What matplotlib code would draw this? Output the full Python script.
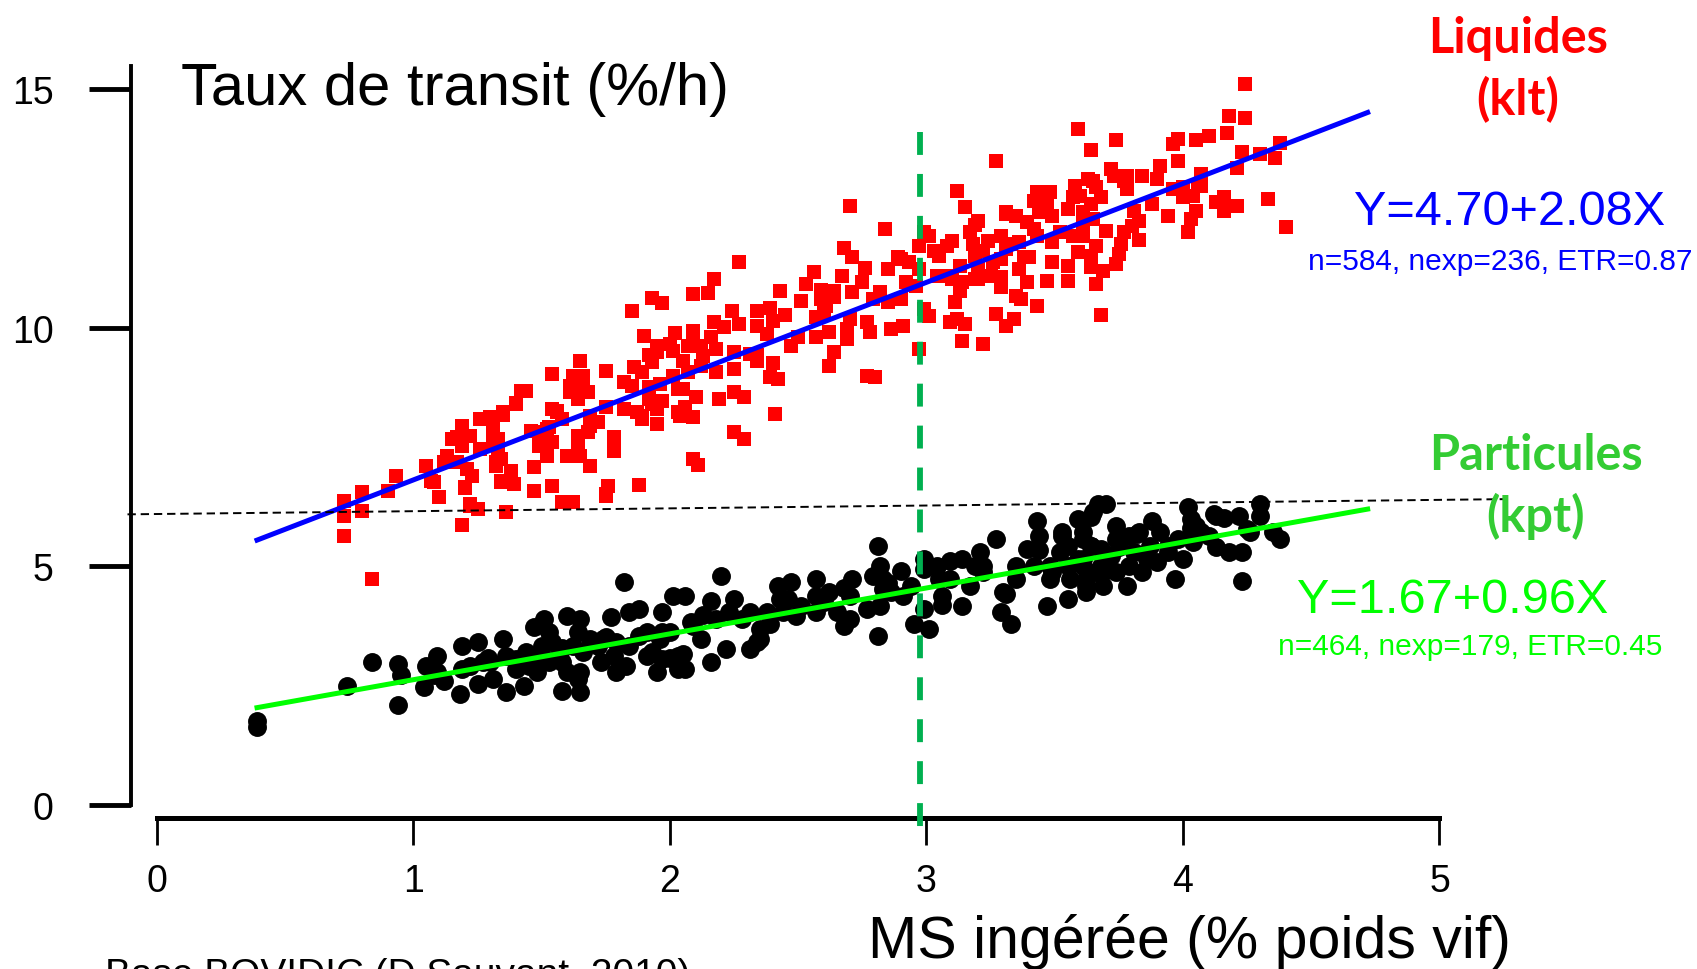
import matplotlib
matplotlib.use("Agg")
import matplotlib.pyplot as plt
import numpy as np

W, H = 1697, 970

# Liquides (klt): x = MS ingérée (% PV), y = taux de transit (%/h)
liquides = np.array([
    (0.73, 5.64), (0.73, 6.37), (0.73, 6.05), (0.80, 6.56), (0.80, 6.16), (0.84, 4.73),
    (0.93, 6.90), (0.90, 6.58), (1.05, 7.10), (1.07, 6.79), (1.10, 6.45), (1.13, 7.31),
    (1.17, 7.71), (1.19, 7.94), (1.20, 6.66), (1.22, 6.26), (1.25, 6.20), (1.19, 5.87),
    (1.23, 6.90), (1.26, 8.09), (1.30, 8.13), (1.31, 7.60), (1.32, 7.19), (1.34, 6.79),
    (1.38, 7.00), (1.39, 6.73), (1.36, 6.14), (1.35, 8.23), (1.40, 8.40), (1.43, 8.67),
    (1.47, 7.08), (1.47, 6.58), (1.50, 7.60), (1.53, 7.92), (1.54, 6.68), (1.56, 8.23),
    (1.58, 6.35), (1.62, 6.35), (1.60, 7.31), (1.65, 7.31), (1.69, 7.10), (1.64, 7.52),
    (1.68, 7.81), (1.61, 8.65), (1.66, 8.72), (1.72, 8.02), (1.75, 6.52), (1.78, 7.71),
    (1.78, 7.42), (1.88, 6.70), (1.75, 8.34), (1.82, 8.30), (1.89, 8.15), (1.93, 8.40),
    (2.03, 8.72), (2.03, 8.23),
    (2.27, 11.38), (2.17, 11.02), (2.09, 10.70), (2.15, 10.73), (2.56, 11.17), (2.53, 10.92),
    (1.93, 10.62), (1.97, 10.52), (1.85, 10.35), (2.24, 10.35), (2.39, 10.41), (2.45, 10.27),
    (2.40, 10.14), (2.57, 10.22), (1.90, 9.83), (2.02, 9.89), (2.09, 9.93), (1.95, 9.62),
    (2.16, 9.81), (2.21, 10.01), (2.27, 10.08), (2.34, 10.04), (2.38, 9.87), (2.50, 9.81),
    (2.57, 9.81), (2.47, 9.62), (2.07, 9.62), (2.12, 9.62), (2.18, 9.56), (2.25, 9.49),
    (2.05, 9.30), (2.13, 9.41), (2.31, 9.45), (2.34, 9.30), (2.40, 9.26), (2.25, 9.14),
    (1.93, 9.28), (1.95, 9.49), (2.01, 9.51), (2.01, 8.99), (2.07, 9.07), (2.12, 9.20),
    (2.18, 9.07), (2.39, 8.97), (2.42, 8.93), (1.86, 9.18), (1.89, 9.07), (1.82, 8.86),
    (1.85, 8.78), (1.96, 8.82), (2.05, 8.72), (2.10, 8.55), (2.19, 8.51), (2.25, 8.65),
    (2.29, 8.55), (1.97, 8.46), (2.06, 8.34), (2.09, 8.13), (2.04, 8.15), (1.95, 8.30),
    (1.87, 8.23), (1.89, 8.09), (1.95, 7.98), (2.41, 8.19), (2.25, 7.81), (2.29, 7.67),
    (2.09, 7.25), (2.11, 7.12), (1.76, 6.68), (1.75, 6.47), (1.92, 8.51), (1.69, 8.15),
    (1.69, 7.94), (1.64, 7.73), (1.64, 7.31), (1.65, 9.30), (1.66, 8.99), (1.61, 8.78),
    (1.68, 8.65), (1.64, 8.51), (1.54, 9.03), (1.56, 8.25), (1.58, 8.09), (1.52, 7.88),
    (1.49, 7.81), (1.54, 7.60), (1.49, 7.52), (1.52, 7.31), (1.42, 8.67), (1.40, 8.42),
    (1.35, 8.17), (1.30, 8.09), (1.31, 7.88), (1.19, 7.88), (1.17, 7.67), (1.22, 7.73),
    (1.33, 7.67), (1.19, 7.52), (1.26, 7.46), (1.33, 7.39), (1.12, 7.19), (1.17, 7.19),
    (1.34, 7.25), (1.32, 7.10), (1.21, 7.04), (1.34, 6.77), (1.20, 6.64), (1.22, 6.31),
    (1.08, 6.77), (1.44, 8.67), (1.15, 7.67),
    (4.24, 15.10), (4.18, 14.43), (4.24, 14.39), (4.17, 14.08), (3.59, 14.16), (3.74, 13.93),
    (3.64, 13.72), (3.27, 13.49), (3.98, 13.95), (4.05, 13.93), (4.10, 14.02), (3.96, 13.85),
    (3.98, 13.49), (3.91, 13.39), (4.23, 13.68), (4.21, 13.35), (4.30, 13.64), (4.36, 13.56),
    (4.38, 13.87), (3.72, 13.32), (3.73, 13.18), (3.77, 13.07), (3.78, 12.91), (3.84, 13.18),
    (3.90, 13.12), (4.07, 13.22), (4.06, 12.97), (4.00, 12.95), (3.96, 12.91), (4.00, 12.74),
    (4.04, 12.76), (4.33, 12.70), (4.16, 12.74), (4.13, 12.63), (4.21, 12.55), (4.16, 12.44),
    (4.40, 12.11), (4.05, 12.44), (4.03, 12.28), (4.02, 12.00), (3.94, 12.34), (3.88, 12.59),
    (3.81, 12.44), (3.83, 12.24), (3.80, 12.13), (3.77, 12.00), (3.83, 11.84), (3.76, 11.75),
    (3.75, 11.54), (3.74, 11.33), (3.70, 12.03), (3.66, 11.71), (3.64, 11.50), (3.64, 11.27),
    (3.69, 11.19), (3.66, 10.92), (3.68, 10.27), (3.59, 11.59), (3.55, 11.29), (3.55, 10.98),
    (3.49, 11.38), (3.47, 10.98), (3.43, 10.45), (3.37, 10.60), (3.39, 10.96), (3.36, 11.23),
    (3.31, 11.65), (3.36, 11.80), (3.43, 11.92), (3.49, 11.80), (3.52, 12.00), (3.57, 11.92),
    (3.61, 12.13), (3.65, 12.28), (3.61, 12.42), (3.55, 12.49), (3.49, 12.34), (3.44, 12.42),
    (3.39, 12.21), (3.42, 12.07), (3.43, 12.84), (3.48, 12.84), (3.47, 12.55), (3.42, 12.65),
    (3.58, 12.97), (3.63, 13.12), (3.66, 12.95), (3.60, 12.76), (3.68, 12.74), (3.64, 12.59),
    (3.31, 12.42), (3.35, 12.34), (3.29, 11.92), (3.33, 11.75), (3.38, 11.48), (3.29, 11.44),
    (3.26, 11.38), (3.29, 11.06), (3.29, 10.85), (3.20, 12.24), (3.17, 12.00), (3.24, 11.82),
    (3.22, 11.61), (3.19, 11.50), (3.18, 11.75), (3.12, 12.86), (3.15, 12.53), (3.13, 11.29),
    (3.10, 11.02), (3.14, 10.96), (3.11, 10.54), (3.12, 10.18), (3.15, 10.08), (3.09, 10.12),
    (3.14, 9.72), (3.22, 9.66), (3.27, 10.29), (3.31, 10.04), (3.34, 10.18), (3.25, 11.08),
    (3.08, 11.71), (3.05, 11.50), (3.03, 11.61), (3.08, 11.08), (3.13, 10.77), (3.04, 11.08),
    (3.01, 11.92), (2.99, 12.00), (2.97, 11.71), (3.01, 10.25), (2.99, 10.39), (2.97, 9.55),
    (2.93, 11.38), (2.90, 11.44), (2.85, 11.23), (2.84, 12.07), (2.92, 10.96), (2.90, 10.60),
    (2.91, 10.04), (2.86, 9.97), (2.82, 10.75), (2.79, 10.60), (2.85, 10.54), (2.77, 10.12),
    (2.78, 9.91), (2.80, 8.97), (2.77, 8.99), (2.75, 10.96), (2.71, 10.75), (2.70, 10.18),
    (2.69, 9.97), (2.69, 9.76), (2.64, 9.49), (2.62, 9.91), (2.61, 10.45), (2.64, 10.77),
    (2.67, 11.08), (2.70, 12.55), (2.68, 11.67), (2.71, 11.48), (2.96, 10.87), (2.97, 11.23),
    (3.20, 11.02), (3.20, 11.23), (3.35, 10.66), (4.07, 13.18), (4.07, 12.97), (2.60, 10.30),
    (2.59, 10.60), (2.62, 9.20), (2.64, 10.64), (2.43, 10.77),
    (1.46, 7.84), (1.54, 8.30), (1.62, 8.98), (1.75, 9.09), (1.92, 9.43), (2.00, 9.66),
    (2.09, 9.89), (2.17, 10.11), (2.34, 10.34), (2.51, 10.57), (2.59, 10.80), (2.76, 11.25),
    (2.89, 11.48), (3.10, 11.82), (3.19, 12.16), (3.31, 12.39), (3.44, 12.61), (3.57, 12.73),
    (3.65, 13.07), (3.78, 13.18), (1.92, 8.75), (2.34, 9.43), (3.19, 11.02), (3.61, 11.93),
    (3.40, 11.48),
])

# Particules (kpt)
particules = np.array([
    (0.39, 1.76), (0.39, 1.63), (0.74, 2.49), (0.84, 3.00), (0.94, 2.95), (0.95, 2.72),
    (0.94, 2.10), (1.05, 2.91), (1.04, 2.47), (1.09, 3.12), (1.12, 2.60), (1.18, 2.33),
    (1.19, 3.33), (1.25, 3.42), (1.25, 2.54), (1.22, 2.91), (1.27, 3.00), (1.35, 3.48),
    (1.36, 3.12), (1.31, 2.64), (1.36, 2.37), (1.40, 2.85), (1.44, 3.21), (1.47, 3.73),
    (1.51, 3.90), (1.53, 3.62), (1.50, 3.33), (1.48, 2.79), (1.53, 3.00), (1.60, 3.96),
    (1.65, 3.90), (1.64, 3.62), (1.57, 3.21), (1.60, 2.79), (1.58, 2.39), (1.65, 2.37),
    (1.64, 2.64), (1.66, 3.21), (1.73, 3.00), (1.77, 3.94), (1.82, 4.67), (1.84, 4.04),
    (1.88, 4.10), (1.79, 2.79), (1.83, 2.91), (1.95, 2.79), (1.91, 3.62), (1.97, 4.04),
    (2.01, 4.38), (1.74, 3.48), (1.84, 3.33), (1.91, 3.12), (2.03, 3.12), (2.03, 2.85),
    (1.43, 2.49), (1.45, 2.91), (1.69, 3.48), (1.54, 3.42),
    (2.06, 2.85), (2.05, 3.16), (2.16, 3.00), (2.22, 3.27), (2.31, 3.27), (2.35, 3.48),
    (1.93, 3.21), (1.96, 3.48), (2.06, 4.38), (2.08, 3.83), (2.12, 3.48), (2.16, 4.27),
    (2.20, 4.80), (2.25, 4.32), (2.31, 4.04), (2.23, 4.04), (2.35, 3.69), (2.39, 3.79),
    (2.42, 4.59), (2.47, 4.67), (2.46, 4.32), (2.49, 3.96), (2.44, 4.04), (2.57, 4.73),
    (2.57, 4.38), (2.57, 4.04), (2.62, 4.46), (2.65, 4.04), (2.68, 3.75), (2.70, 3.90),
    (2.71, 4.73), (2.77, 4.10), (2.81, 5.43), (2.82, 5.01), (2.79, 4.80), (2.83, 4.73),
    (2.90, 4.90), (2.86, 4.46), (2.94, 4.59), (2.81, 3.54), (2.82, 4.17), (2.95, 3.79),
    (3.01, 3.69), (2.99, 5.15), (2.99, 4.94), (2.99, 4.10), (3.04, 5.01), (3.09, 5.11),
    (3.14, 5.15), (3.21, 5.30), (3.27, 5.57), (3.06, 4.38), (3.05, 4.73), (3.14, 4.17),
    (3.17, 4.59), (3.22, 4.88), (3.29, 4.04), (3.33, 3.79), (3.30, 4.46), (3.35, 5.01),
    (3.39, 5.36), (3.43, 5.95), (3.44, 5.64), (3.42, 5.01), (3.47, 4.17), (3.55, 4.32),
    (3.48, 4.73), (3.53, 5.64), (3.59, 5.99), (3.61, 5.01), (3.62, 4.59), (3.65, 6.14),
    (3.67, 6.31), (3.64, 5.43),
    (3.70, 6.31), (4.02, 6.24), (4.30, 6.31), (4.30, 6.05), (4.22, 6.05), (4.12, 6.10),
    (4.03, 5.99), (4.05, 5.85), (3.88, 5.95), (3.64, 6.03), (3.53, 5.72), (3.61, 5.72),
    (3.74, 5.85), (3.79, 5.64), (3.91, 5.72), (3.87, 5.43), (3.98, 5.57), (4.04, 5.51),
    (4.00, 5.15), (4.13, 5.41), (4.18, 5.30), (4.23, 5.30), (4.38, 5.57), (4.35, 5.72),
    (4.26, 5.72), (3.97, 4.73), (4.23, 4.69), (3.52, 5.30), (3.49, 4.88), (3.55, 5.01),
    (3.61, 5.15), (3.68, 5.36), (3.68, 5.01), (3.62, 4.73), (3.62, 4.46), (3.69, 4.59),
    (3.78, 4.59), (3.79, 5.01), (3.74, 4.88), (3.84, 4.88), (3.90, 5.09), (3.75, 5.41),
    (3.94, 5.30), (4.10, 5.64), (4.13, 6.05), (4.25, 5.78), (4.07, 5.72),
    (2.00, 3.62), (2.09, 3.75), (2.18, 3.90), (2.28, 3.90), (2.38, 4.04), (2.51, 4.17),
    (2.60, 4.25), (2.70, 4.38), (2.83, 4.53), (2.91, 4.38), (3.09, 4.73), (3.22, 5.01),
    (3.35, 4.73), (3.48, 5.01), (3.59, 5.15), (1.09, 2.79), (1.19, 2.85), (1.30, 3.00),
    (1.40, 3.06), (1.50, 3.12), (1.58, 3.00), (1.62, 3.33), (1.72, 3.33), (1.79, 3.42),
    (1.88, 3.54), (1.97, 3.62), (1.78, 3.12), (1.97, 3.06), (1.65, 2.79), (3.55, 5.43),
    (3.64, 5.43), (3.72, 5.22), (3.81, 5.30), (3.86, 5.15), (3.94, 5.43), (3.74, 5.57),
    (3.83, 5.72), (3.66, 4.88), (3.56, 4.73),
    (1.08, 2.73), (1.29, 3.07), (1.58, 3.30), (1.75, 3.52), (2.13, 3.98), (2.43, 4.32),
    (2.68, 4.55), (2.85, 4.66), (3.19, 5.00), (3.44, 5.34), (3.61, 5.57), (3.82, 5.68),
    (4.03, 5.80), (4.16, 6.02), (3.06, 4.20), (3.31, 4.43), (3.69, 4.89), (2.00, 3.07),
    (2.34, 3.41),
])

# droites de régression (extrémités)
liq_fit_x = [0.39, 4.72]
liq_fit_y = [5.55, 14.51]
part_fit_x = [0.39, 4.72]
part_fit_y = [2.04, 6.20]

# repères en pointillés
ref_h_x = [-0.115, 5.28]
ref_h_y = [6.09, 6.41]
ref_v_x = [2.975, 2.975]
ref_v_y = [14.1, -0.5]

x_ticks = [0, 1, 2, 3, 4, 5]
y_ticks = [0, 5, 10, 15]


def fig_pos(x_px, y_px):
    return x_px / W, 1 - y_px / H


plt.rcParams["font.family"] = ["Liberation Sans", "DejaVu Sans"]
plt.rcParams["lines.scale_dashes"] = False

fig = plt.figure(figsize=(W / 100, H / 100), dpi=100)
ax = fig.add_axes([0.0774, 0.15577, 0.8162, 0.77598])
ax.set_xlim(-0.1, 5.3)
ax.set_ylim(-0.27, 15.5)

ax.scatter(liquides[:, 0], liquides[:, 1], marker="s", s=100,
           color="#ff0000", linewidths=0, zorder=2)
ax.scatter(particules[:, 0], particules[:, 1], marker="o", s=185,
           color="black", linewidths=0, zorder=2)
ax.plot(liq_fit_x, liq_fit_y, color="#0000ff", lw=3.6, zorder=3)
ax.plot(part_fit_x, part_fit_y, color="#00ff00", lw=3.6, zorder=3)
ax.plot(ref_h_x, ref_h_y, color="black", lw=1.4, dashes=(6, 3.5),
        zorder=4, clip_on=False)
ax.plot(ref_v_x, ref_v_y, color="#00b050", lw=4.2, dashes=(16.5, 13.7),
        zorder=4, clip_on=False)

for side in ["top", "right"]:
    ax.spines[side].set_visible(False)
ax.spines["left"].set_linewidth(2.8)
ax.spines["left"].set_bounds(0, 15.48)
ax.spines["bottom"].set_linewidth(3.6)
ax.spines["bottom"].set_bounds(0, 5)

ax.set_xticks(x_ticks)
ax.set_yticks(y_ticks)
ax.tick_params(axis="y", direction="out", length=30, width=3.5, pad=26, labelsize=27)
ax.tick_params(axis="x", direction="out", length=19.5, width=2, pad=13, labelsize=27)

fig.text(*fig_pos(181, 105), "Taux de transit (%/h)", fontsize=43, va="baseline")
fig.text(*fig_pos(868, 958), "MS ingérée (% poids vif)", fontsize=42.5, va="baseline")
fig.text(*fig_pos(105, 986), "Base BOVIDIC (D.Sauvant, 2010)", fontsize=28, va="baseline")

bold = dict(family=["Lato", "DejaVu Sans"], fontweight="bold", fontsize=35,
            ha="center", va="baseline")
fig.text(*fig_pos(1518, 53), "Liquides", color="#ff0000", **bold)
fig.text(*fig_pos(1518, 115), "(klt)", color="#ff0000", **bold)
fig.text(*fig_pos(1536, 470), "Particules", color="#33cc33", **bold)
fig.text(*fig_pos(1536, 532), "(kpt)", color="#33cc33", **bold)

fig.text(*fig_pos(1510, 225), "Y=4.70+2.08X", color="#0000ff", fontsize=35,
         ha="center", va="baseline")
fig.text(*fig_pos(1500, 270), "n=584, nexp=236, ETR=0.87", color="#0000ff",
         fontsize=21.5, ha="center", va="baseline")
fig.text(*fig_pos(1453, 613), "Y=1.67+0.96X", color="#00ff00", fontsize=35,
         ha="center", va="baseline")
fig.text(*fig_pos(1470, 655), "n=464, nexp=179, ETR=0.45", color="#00ff00",
         fontsize=21.5, ha="center", va="baseline")

fig.savefig("out.png", dpi=100)
